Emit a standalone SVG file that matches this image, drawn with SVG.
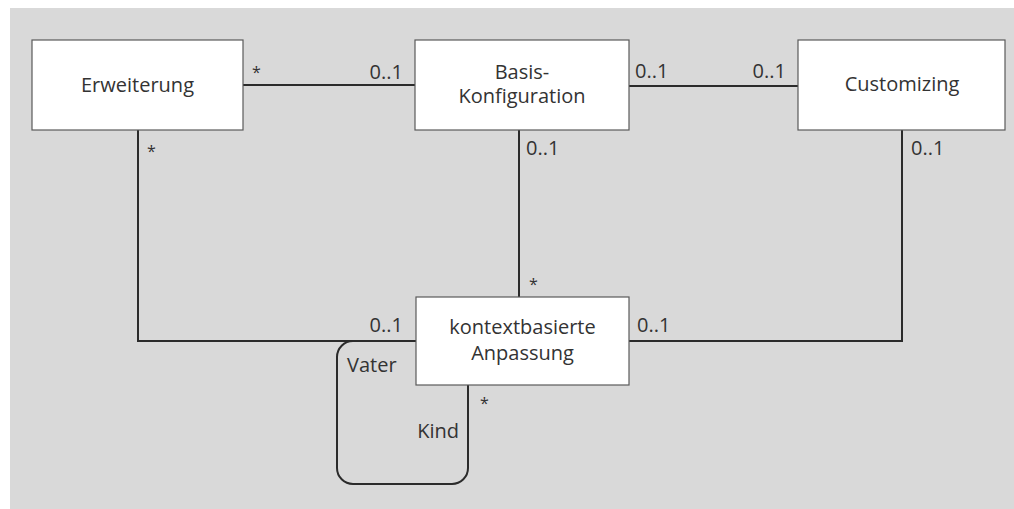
<svg xmlns="http://www.w3.org/2000/svg" width="1014" height="509" viewBox="0 0 1014 509">
  <style>
    .bg { fill: #d9d9d9; }
    .box { fill: #ffffff; stroke: #5a5a5a; stroke-width: 1.2; }
    .conn { fill: none; stroke: #2b2b2b; stroke-width: 2; }
    text { font-family: "Open Sans", "Liberation Sans", sans-serif; font-size: 20px; fill: #333333; }
    .name { text-anchor: middle; }
    .end { text-anchor: end; }
    .star { font-size: 16px; }
  </style>

  <rect class="bg" x="10" y="8" width="1004" height="501"/>

  <!-- associations -->
  <g id="connectors">
    <line class="conn" x1="243" y1="85" x2="415" y2="85"/>
    <line class="conn" x1="629" y1="86" x2="798" y2="86"/>
    <polyline class="conn" points="138,130 138,341 416,341"/>
    <line class="conn" x1="519" y1="130" x2="519" y2="297"/>
    <polyline class="conn" points="902,130 902,341 629,341"/>
    <!-- recursive parent/child association -->
    <path class="conn" d="M416,341 H353 A16,16 0 0 0 337,357 V468 A16,16 0 0 0 353,484 H452 A16,16 0 0 0 468,468 V385"/>

    <text class="star" x="252" y="78">*</text>
    <text class="end" x="403" y="79">0..1</text>
    <text x="635" y="78">0..1</text>
    <text class="end" x="786" y="78">0..1</text>
    <text class="star" x="147" y="157">*</text>
    <text x="526" y="155">0..1</text>
    <text x="911" y="155">0..1</text>
    <text class="star" x="529" y="290">*</text>
    <text class="end" x="403" y="332">0..1</text>
    <text x="637" y="332">0..1</text>
    <text class="star" x="480" y="409">*</text>
    <text x="347" y="372">Vater</text>
    <text class="end" x="459" y="438">Kind</text>
  </g>

  <g id="erweiterung">
    <rect class="box" x="32" y="40" width="211" height="90"/>
    <text class="name" x="137.5" y="92">Erweiterung</text>
  </g>

  <g id="basis-konfiguration">
    <rect class="box" x="415" y="40" width="214" height="90"/>
    <text class="name" x="522" y="79">Basis-</text>
    <text class="name" x="522" y="103">Konfiguration</text>
  </g>

  <g id="customizing">
    <rect class="box" x="798" y="40" width="207" height="90"/>
    <text class="name" x="902" y="91">Customizing</text>
  </g>

  <g id="kontextbasierte-anpassung">
    <rect class="box" x="416" y="297" width="213" height="88"/>
    <text class="name" x="522.5" y="334">kontextbasierte</text>
    <text class="name" x="522.5" y="360">Anpassung</text>
  </g>
</svg>
